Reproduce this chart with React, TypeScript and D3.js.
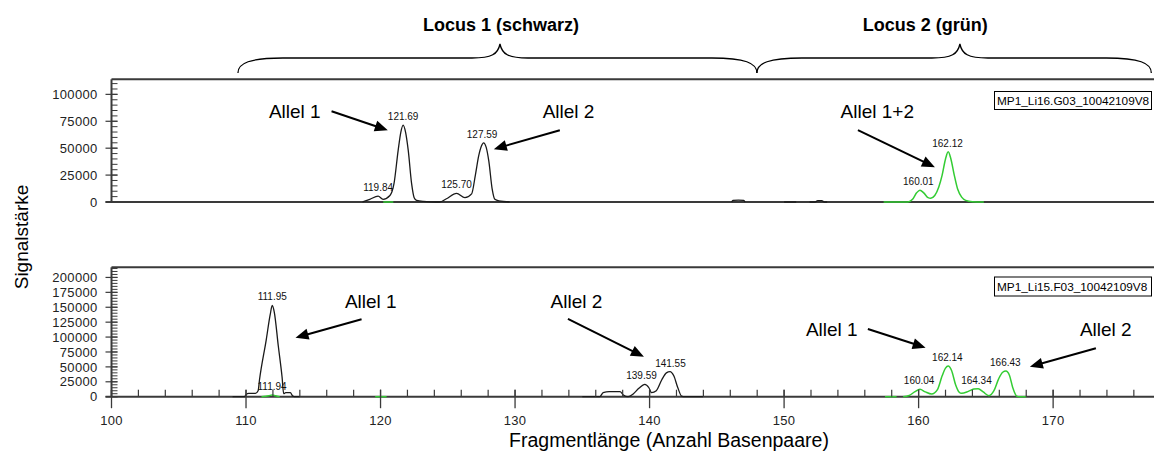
import React from "react";
import * as d3 from "d3";

type Pt = [number, number];

// ---- Data (x = fragment length in bp, y = signal intensity) ----
const topBlackTrace: Pt[] = [
  [118.66, 0], [119.2, 2500], [119.82, 5500], [120.19, 2500], [120.7, 6000], [121.0, 17000],
  [121.31, 48000], [121.51, 65000], [121.68, 71500], [121.86, 65000], [122.06, 48000],
  [122.31, 17000], [122.5, 4000], [122.68, 1500], [123.2, 500], [124.1, 0],
  [124.4, 0], [124.9, 3000], [125.65, 8000], [126.27, 4000], [126.77, 7500], [127.05, 25000],
  [127.3, 43000], [127.5, 52000], [127.66, 55000], [127.85, 51000], [128.05, 38000],
  [128.3, 12000], [128.5, 2500], [128.8, 1000], [129.6, 0],
];
const topBlackSmall1: Pt[] = [[146.1, 0], [146.2, 1500], [146.6, 1800], [147.0, 1500], [147.1, 0]];
const topBlackSmall2: Pt[] = [[150.0, 0], [150.9, 0]];
const topBlackSmall3: Pt[] = [[151.9, 0], [152.3, 0], [152.5, 1200], [152.8, 1200], [153.0, 0], [153.2, 0]];
const topGreenSmall: Pt[] = [[120.2, 0], [120.95, 0]];
const topGreenTrace: Pt[] = [
  [157.4, 0], [159.2, 0], [159.55, 2500], [159.85, 8500], [160.1, 11000], [160.38, 8500],
  [160.7, 4000], [160.9, 3400], [161.2, 6000], [161.5, 14000], [161.75, 25000], [162.0, 40000],
  [162.2, 46600], [162.4, 40000], [162.65, 25000], [162.9, 12000], [163.2, 4500], [163.5, 1500],
  [164.0, 300], [164.85, 0],
];

const bottomBlackTrace: Pt[] = [
  [109.0, 0], [109.9, 0], [110.0, 3500], [110.2, 5500], [110.7, 5500], [110.9, 10000],
  [111.0, 28000], [111.5, 95000], [111.8, 138000], [111.95, 153000], [112.1, 142000],
  [112.4, 85000], [112.68, 33000], [112.8, 5000], [112.95, 6700], [113.3, 6700],
  [113.45, 1500], [113.6, 0], [114.0, 0],
];
const bottomBlackTrace2: Pt[] = [
  [135.0, 0], [136.3, 0], [136.55, 7000], [137.0, 8400], [137.8, 8400], [138.05, 3000],
  [138.4, 0], [138.8, 5000], [139.2, 14000], [139.65, 20800], [139.95, 15000], [140.15, 6700],
  [140.5, 10000], [140.9, 28000], [141.25, 40000], [141.52, 42000], [141.8, 35000],
  [142.1, 15000], [142.38, 1000], [142.6, 0], [143.98, 0],
];
const bottomGreenSmall1: Pt[] = [[111.15, 0], [111.7, 1500], [111.94, 3000], [112.2, 1500], [112.5, 0]];
const bottomGreenSmall2: Pt[] = [[119.6, 0], [120.45, 0]];
const bottomGreenSmall3: Pt[] = [[157.5, 0], [158.36, 0]];
const bottomGreenTrace: Pt[] = [
  [158.85, 0], [159.3, 2000], [159.7, 8000], [160.1, 12300], [160.5, 8000], [160.97, 4500],
  [161.4, 12000], [161.75, 35000], [162.0, 48000], [162.2, 51500], [162.45, 44000],
  [162.75, 20000], [163.0, 8000], [163.2, 5600], [163.7, 9000], [164.1, 12800], [164.43, 13400],
  [164.8, 8000], [165.23, 1700], [165.6, 10000], [165.95, 30000], [166.25, 41000],
  [166.49, 43000], [166.75, 36000], [167.0, 15000], [167.29, 1000], [167.5, 0], [168.0, 0],
];

// peak labels: [text, bp, height]
const topPeakLabels: [string, number, number][] = [
  ["119.84", 119.82, 5500], ["121.69", 121.68, 71500], ["125.70", 125.65, 8000],
  ["127.59", 127.55, 55000], ["160.01", 159.98, 11000], ["162.12", 162.15, 46600],
];
const bottomPeakLabels: [string, number, number][] = [
  ["111.95", 111.95, 153000], ["111.94", 111.94, 3000], ["139.59", 139.4, 20800],
  ["141.55", 141.55, 42000], ["160.04", 160.04, 12300], ["162.14", 162.14, 51500],
  ["164.34", 164.3, 13400], ["166.43", 166.45, 43000],
];

// annotations (data coordinates): text start, text baseline, arrow from -> to
type Ann = { text: string; tx: number; ty: number; x1: number; y1: number; x2: number; y2: number };
const topAnnotations: Ann[] = [
  { text: "Allel 1", tx: 111.7, ty: 77800, x1: 116.36, y1: 84300, x2: 120.54, y2: 66700 },
  { text: "Allel 2", tx: 132.05, ty: 77800, x1: 133.33, y1: 66700, x2: 128.42, y2: 49100 },
  { text: "Allel 1+2", tx: 154.2, ty: 77800, x1: 155.49, y1: 66700, x2: 161.21, y2: 32400 },
];
const bottomAnnotations: Ann[] = [
  { text: "Allel 1", tx: 117.35, ty: 148000, x1: 118.59, y1: 129900, x2: 113.68, y2: 99000 },
  { text: "Allel 2", tx: 132.64, ty: 148000, x1: 133.93, y1: 130400, x2: 139.58, y2: 67100 },
  { text: "Allel 1", tx: 151.62, ty: 101800, x1: 156.23, y1: 113600, x2: 160.52, y2: 82200 },
  { text: "Allel 2", tx: 171.99, ty: 101800, x1: 173.18, y1: 81200, x2: 168.27, y2: 50300 },
];

const topYTicks = [0, 25000, 50000, 75000, 100000];
const bottomYTicks = [0, 25000, 50000, 75000, 100000, 125000, 150000, 175000, 200000];
const xTicks = [100, 110, 120, 130, 140, 150, 160, 170];
const topSampleName = "MP1_Li16.G03_10042109V8";
const bottomSampleName = "MP1_Li15.F03_10042109V8";
const loci = [
  { name: "Locus 1 (schwarz)", from: 109.4, tip: 128.88, to: 147.98, labelAt: 128.95 },
  { name: "Locus 2 (grün)", from: 147.98, tip: 163.07, to: 177.3, labelAt: 160.5 },
];

const FONT = "'Liberation Sans', Arial, Helvetica, sans-serif";
const BLACK = "#1a1a1a";
const GREEN = "#33cc33";
const AXIS = "#3a3a3a";

function Arrow({ x1, y1, x2, y2 }: { x1: number; y1: number; x2: number; y2: number }) {
  const ang = Math.atan2(y2 - y1, x2 - x1);
  const len = 13, hw = 5.5;
  const bx = x2 - len * Math.cos(ang), by = y2 - len * Math.sin(ang);
  const px = -Math.sin(ang) * hw, py = Math.cos(ang) * hw;
  return (
    <g>
      <line x1={x1} y1={y1} x2={bx + Math.cos(ang) * 2} y2={by + Math.sin(ang) * 2} stroke="#000" strokeWidth={2} />
      <polygon points={`${x2},${y2} ${bx + px},${by + py} ${bx - px},${by - py}`} fill="#000" />
    </g>
  );
}

function braceD(x0: number, xt: number, x1: number, yEnd: number, yFlat: number, yTip: number) {
  return [
    `M${x0},${yEnd}`,
    `C${x0},${yFlat + 5} ${x0 + 12},${yFlat} ${x0 + 45},${yFlat}`,
    `L${xt - 28},${yFlat}`,
    `C${xt - 8},${yFlat} ${xt - 2},${yFlat - 4} ${xt},${yTip}`,
    `C${xt + 2},${yFlat - 4} ${xt + 8},${yFlat} ${xt + 28},${yFlat}`,
    `L${x1 - 45},${yFlat}`,
    `C${x1 - 12},${yFlat} ${x1},${yFlat + 5} ${x1},${yEnd}`,
  ].join(" ");
}

export default function App() {
  const W = 1154, H = 452;
  const x = d3.scaleLinear().domain([100, 177.35]).range([111.5, 1152]);
  const yTop = d3.scaleLinear().domain([0, 114000]).range([202, 79.3]);
  const yBot = d3.scaleLinear().domain([0, 217000]).range([396.7, 267.3]);
  const axisX = x(100);
  const right = W;

  const panel = (
    y: d3.ScaleLinear<number, number>,
    black: Pt[][],
    green: Pt[][],
    ticks: number[],
    maxMinor: number,
    labels: [string, number, number][],
    anns: Ann[],
    sample: string,
    boxTop: number,
    boxH: number
  ) => {
    const line = d3.line<Pt>().x((d) => x(d[0])).y((d) => y(d[1])).curve(d3.curveMonotoneX);
    const [y0, yT] = y.range();
    const minor = d3.range(0, maxMinor + 1, 5000);
    return (
      <g>
        {/* frame */}
        <line x1={axisX} x2={right} y1={yT} y2={yT} stroke={AXIS} strokeWidth={2} />
        <line x1={axisX} x2={axisX} y1={yT} y2={y0} stroke={AXIS} strokeWidth={2} />
        <line x1={axisX - 6} x2={right} y1={y0} y2={y0} stroke={AXIS} strokeWidth={2} />
        {minor.map((v) => (
          <line key={"m" + v} x1={axisX} x2={axisX + 6} y1={y(v)} y2={y(v)} stroke={AXIS} strokeWidth={1} />
        ))}
        {ticks.map((v) => (
          <g key={"t" + v}>
            <line x1={axisX - 6} x2={axisX + 6} y1={y(v)} y2={y(v)} stroke={AXIS} strokeWidth={1.2} />
            <text x={axisX - 14} y={y(v)} dy="0.36em" textAnchor="end" fontSize={13} fill="#222" fontFamily={FONT} letterSpacing={0.3}>
              {v}
            </text>
          </g>
        ))}
        {/* traces */}
        {black.map((s, i) => (
          <path key={"b" + i} d={line(s) || ""} fill="none" stroke={BLACK} strokeWidth={1.3} />
        ))}
        {green.map((s, i) => (
          <path key={"g" + i} d={line(s) || ""} fill="none" stroke={GREEN} strokeWidth={1.5} />
        ))}
        {/* peak labels */}
        {labels.map(([t, bp, h], i) => (
          <text key={"l" + i} x={x(bp)} y={y(h) - 5} textAnchor="middle" fontSize={10} fill="#111" fontFamily={FONT}>
            {t}
          </text>
        ))}
        {/* annotations */}
        {anns.map((a, i) => (
          <g key={"a" + i}>
            <text x={x(a.tx)} y={y(a.ty)} fontSize={19} fill="#000" fontFamily={FONT}>
              {a.text}
            </text>
            <Arrow x1={x(a.x1)} y1={y(a.y1)} x2={x(a.x2)} y2={y(a.y2)} />
          </g>
        ))}
        {/* sample name box */}
        <rect x={994.5} y={boxTop} width={157} height={boxH} fill="#fff" stroke="#000" strokeWidth={1} />
        <text x={997} y={boxTop + boxH / 2} dy="0.36em" fontSize={11.8} fill="#000" fontFamily={FONT}>
          {sample}
        </text>
      </g>
    );
  };

  const yBase = yBot(0);

  return (
    <svg width={W} height={H} style={{ position: "absolute", left: 0, top: 0, background: "#fff" }}>
      <rect x={0} y={0} width={W} height={H} fill="#fff" />
      {/* loci braces */}
      {loci.map((l, i) => (
        <g key={"locus" + i}>
          <path d={braceD(x(l.from), x(l.tip), Math.min(x(l.to), W - 1), 73, 58, 44)} fill="none" stroke="#000" strokeWidth={1.3} />
          <text x={x(l.labelAt)} y={31} textAnchor="middle" fontSize={18} fontWeight="bold" fill="#000" fontFamily={FONT}>
            {l.name}
          </text>
        </g>
      ))}
      {panel(
        yTop,
        [topBlackTrace, topBlackSmall1, topBlackSmall2, topBlackSmall3],
        [topGreenSmall, topGreenTrace],
        topYTicks,
        110000,
        topPeakLabels,
        topAnnotations,
        topSampleName,
        91.5,
        18
      )}
      {panel(
        yBot,
        [bottomBlackTrace, bottomBlackTrace2],
        [bottomGreenSmall1, bottomGreenSmall2, bottomGreenSmall3, bottomGreenTrace],
        bottomYTicks,
        215000,
        bottomPeakLabels,
        bottomAnnotations,
        bottomSampleName,
        277,
        19
      )}
      {/* x axis ticks (bottom panel) */}
      {d3.range(100, 178, 2).map((v) => (
        <line key={"xm" + v} x1={x(v)} x2={x(v)} y1={yBase - 7} y2={yBase} stroke={AXIS} strokeWidth={1.2} />
      ))}
      {xTicks.map((v) => (
        <g key={"xt" + v}>
          <line x1={x(v)} x2={x(v)} y1={yBase - 7} y2={yBase + 11.5} stroke={AXIS} strokeWidth={1.3} />
          <text x={x(v)} y={424.5} textAnchor="middle" fontSize={13} fill="#222" fontFamily={FONT} letterSpacing={0.3}>
            {v}
          </text>
        </g>
      ))}
      {/* axis titles */}
      <text x={669} y={447} textAnchor="middle" fontSize={19.5} fill="#000" fontFamily={FONT}>
        Fragmentlänge (Anzahl Basenpaare)
      </text>
      <text transform="translate(28,237) rotate(-90)" textAnchor="middle" fontSize={19} fill="#000" fontFamily={FONT}>
        Signalstärke
      </text>
    </svg>
  );
}
